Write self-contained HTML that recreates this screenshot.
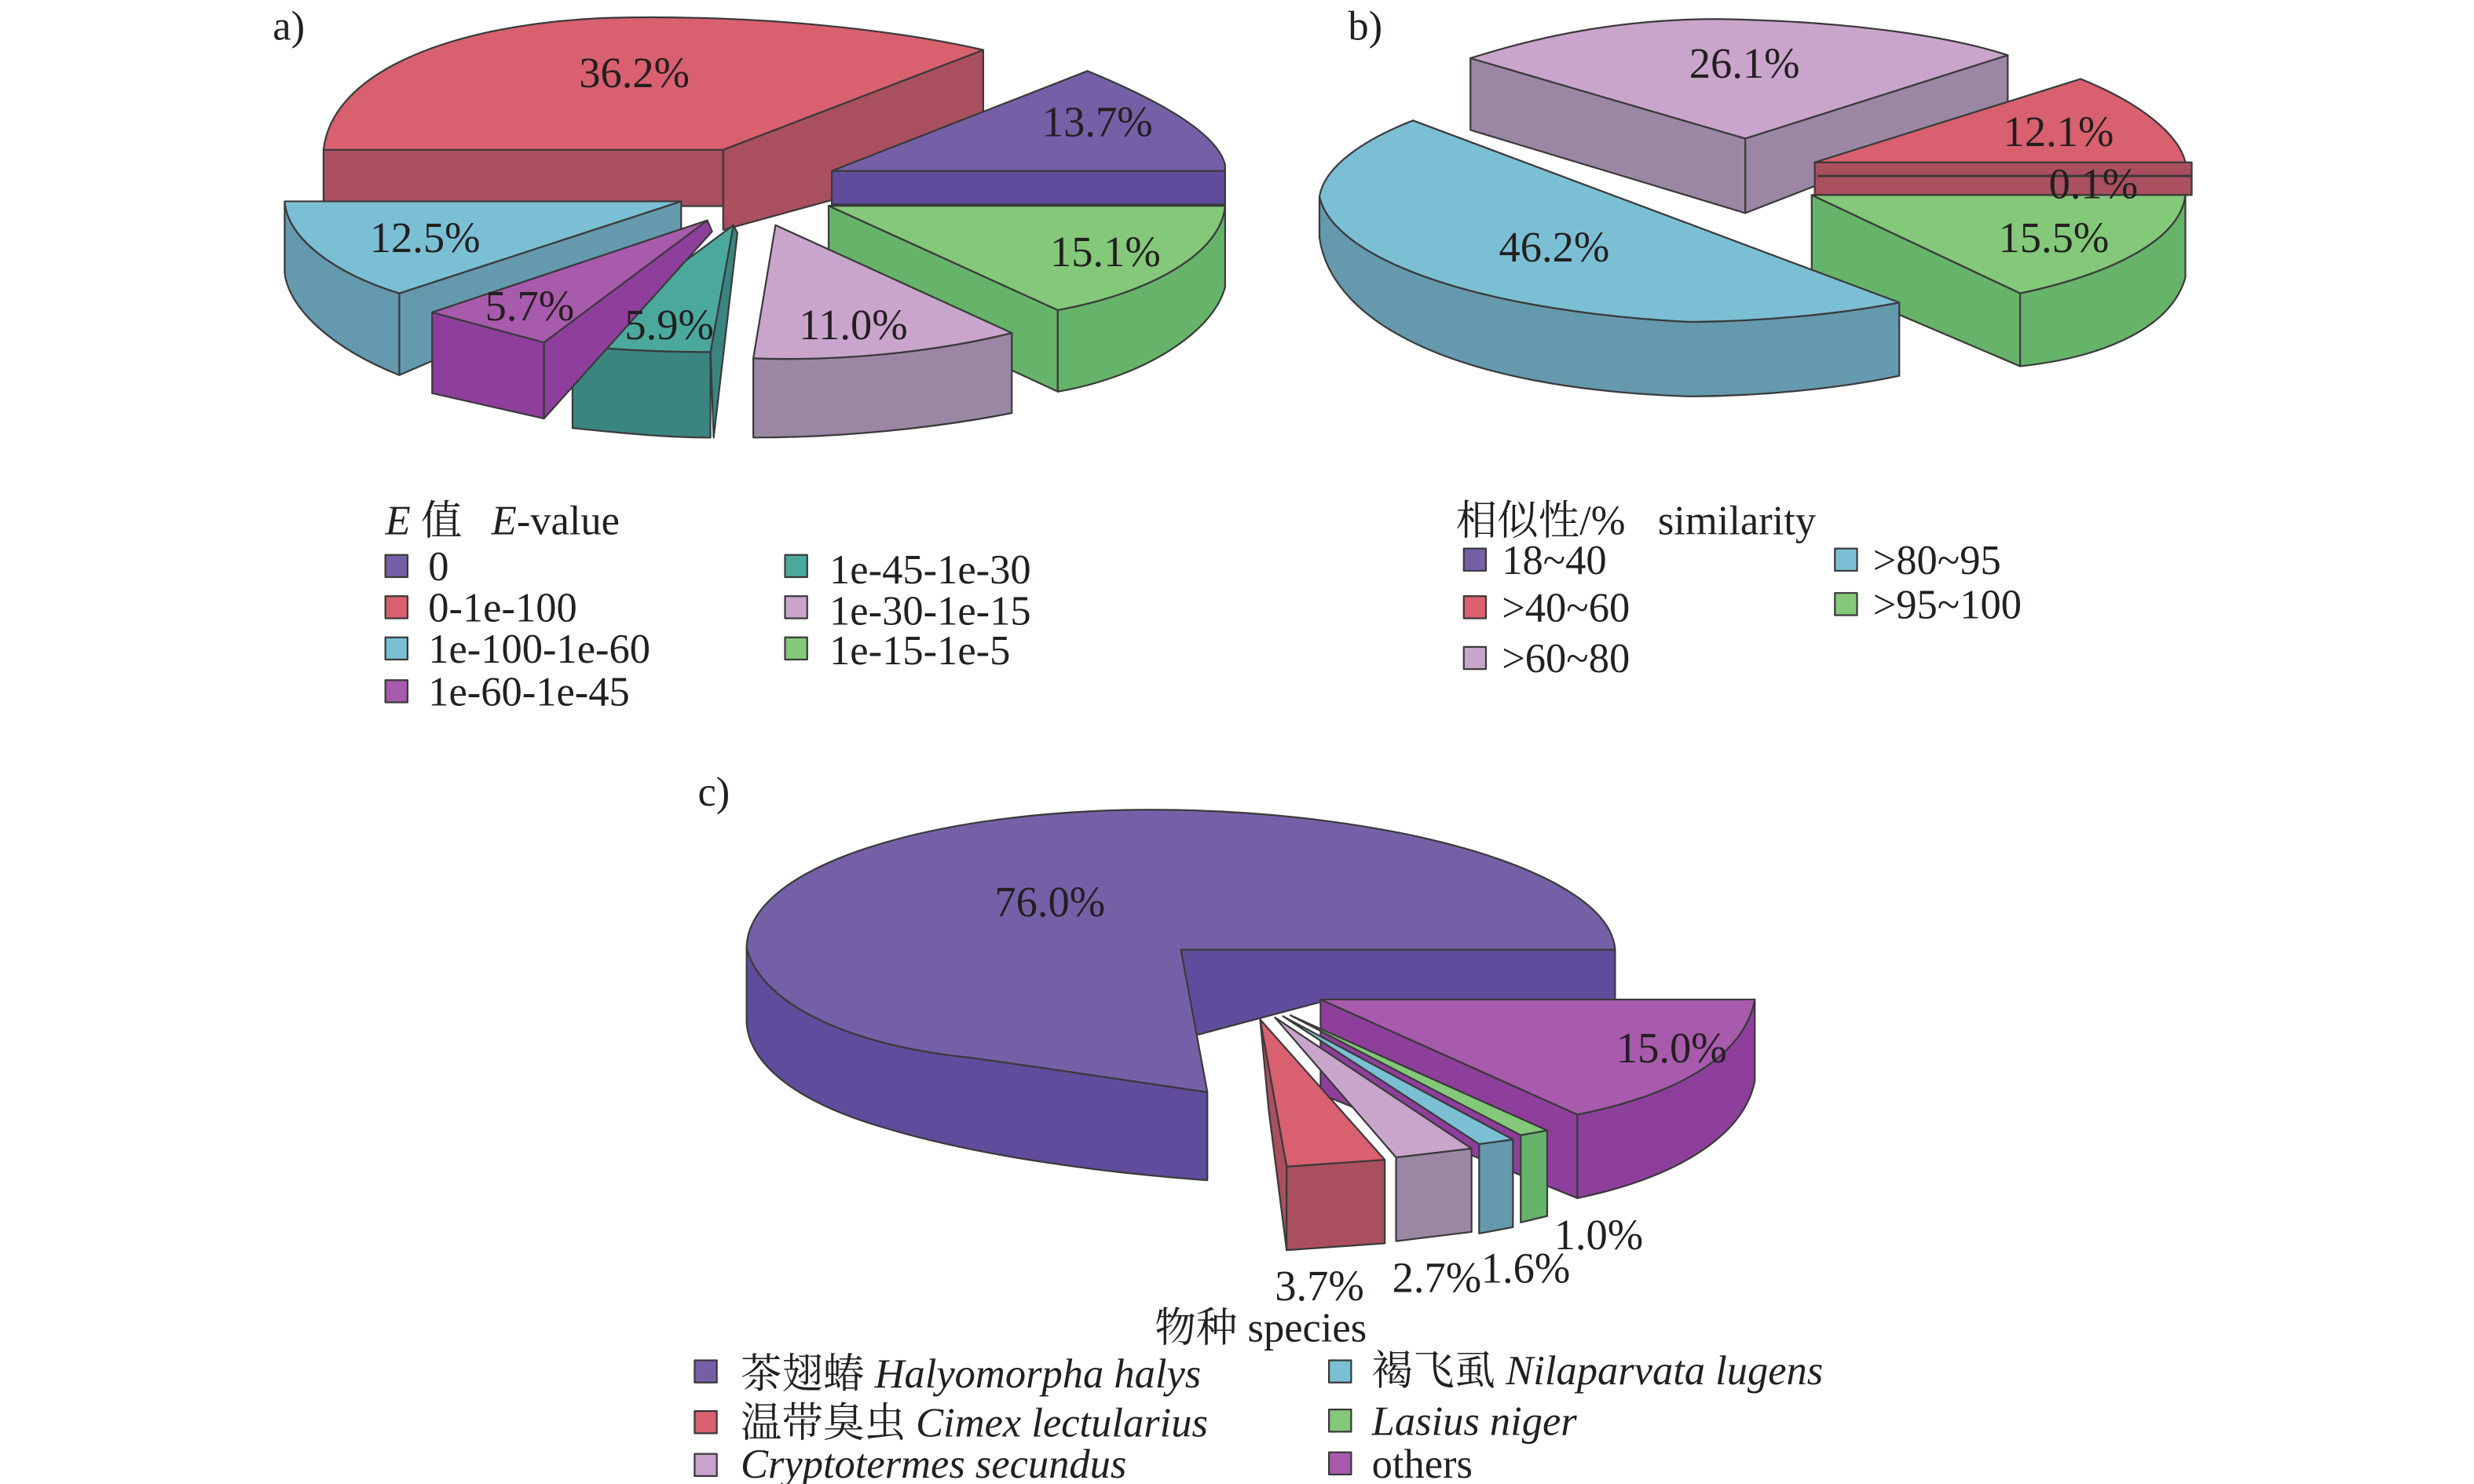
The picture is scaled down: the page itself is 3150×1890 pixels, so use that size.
<!DOCTYPE html>
<html><head><meta charset="utf-8"><style>
html,body{margin:0;padding:0;background:#fff;}
svg{display:block;}
text{font-family:"Liberation Serif","Noto Serif CJK SC","Noto Sans CJK SC",serif;fill:#231f20;}
.l{font-size:27px;text-anchor:middle;}
.g{font-size:26px;}
.s{stroke:#3a3a3a;stroke-width:1.1;stroke-linejoin:round;}
</style></head><body>
<svg width="3150" height="1890" viewBox="0 0 1560 936" preserveAspectRatio="none" xmlns="http://www.w3.org/2000/svg">
<!-- ===== Panel a ===== -->
<text x="172" y="25" class="g" font-size="24">a)</text>
<!-- red -->
<path class="s" fill="#a94f5e" d="M456,94.5 L620,31.5 L620,100 L456,145 Z"/>
<path class="s" fill="#a94f5e" d="M204,94.5 L456,94.5 L456,130 L204,130 Z"/>
<path class="s" fill="#d9606f" d="M204,94.5 C210,40 300,12 396,11 C480,10 560,18 620,31.5 L456,94.5 Z"/>
<!-- purple -->
<path class="s" fill="#604c9c" d="M524.5,107.8 L772.5,107.8 L772.5,129 L524.5,129 Z"/>
<path class="s" fill="#7560a8" d="M524.5,107.8 L685.7,44.8 C735,65 768,85 772.5,104 L772.5,107.8 Z"/>
<!-- green -->
<path class="s" fill="#66b36a" d="M522.5,129.8 L667,195.6 L667,247 L522.5,180 Z"/>
<path class="s" fill="#66b36a" d="M667,195.6 C725,180 770,155 772.5,129.8 L772.5,181 C765,210 720,238 667,247 Z"/>
<path class="s" fill="#84c87a" d="M522.5,129.8 L772.5,129.8 C770,160 725,185 667,195.6 Z"/>
<!-- lilac -->
<path class="s" fill="#9b87a4" d="M475,226 C530,228 590,222 638,210 L638,260.5 C590,270 530,276 475,276 Z"/>
<path class="s" fill="#c9a5cc" d="M489,142 L638,210 C590,222 530,228 475,226 Z"/>
<!-- blue -->
<path class="s" fill="#6499ae" d="M251.8,185 L429.5,127 L429.5,160 L251.8,236.6 Z"/>
<path class="s" fill="#6499ae" d="M179.5,127 C181,150 210,172 251.8,185 L251.8,236.6 C210,220 182,195 179.5,172 Z"/>
<path class="s" fill="#7bbfd4" d="M179.5,127 L429.5,127 L251.8,185 C210,172 181,150 179.5,127 Z"/>
<!-- teal -->
<path class="s" fill="#3a8580" d="M448,222 L462.5,142 L465,147 L450,276 Z"/>
<path class="s" fill="#3a8580" d="M361,217.6 C390,221 420,222 448,222 L448,276 C420,276 390,273 361,270 Z"/>
<path class="s" fill="#4aa99c" d="M361,217.6 L462.5,142 L448,222 C420,222 390,221 361,217.6 Z"/>
<!-- magenta -->
<path class="s" fill="#8e3f9c" d="M343,216 L446,139 L449,146 L343,264 Z"/>
<path class="s" fill="#8e3f9c" d="M272.5,197 L343,216 L343,264 L272.5,248 Z"/>
<path class="s" fill="#a85aac" d="M272.5,197 L446,139 L343,216 Z"/>
<text class="l" x="400" y="55">36.2%</text>
<text class="l" x="692" y="86">13.7%</text>
<text class="l" x="697" y="168">15.1%</text>
<text class="l" x="268" y="159">12.5%</text>
<text class="l" x="334" y="202">5.7%</text>
<text class="l" x="422" y="214">5.9%</text>
<text class="l" x="538" y="214">11.0%</text>
<!-- legend a -->
<text class="g" x="243" y="337"><tspan font-style="italic">E</tspan> 值 <tspan dx="12" font-style="italic">E</tspan>-value</text>
<rect class="s" x="243" y="350" width="14" height="14" fill="#7560a8"/><text class="g" x="270" y="366">0</text>
<rect class="s" x="243" y="376" width="14" height="14" fill="#d9606f"/><text class="g" x="270" y="392">0-1e-100</text>
<rect class="s" x="243" y="402" width="14" height="14" fill="#7bbfd4"/><text class="g" x="270" y="418">1e-100-1e-60</text>
<rect class="s" x="243" y="429" width="14" height="14" fill="#a85aac"/><text class="g" x="270" y="445">1e-60-1e-45</text>
<rect class="s" x="495" y="350" width="14" height="14" fill="#4aa99c"/><text class="g" x="523" y="368">1e-45-1e-30</text>
<rect class="s" x="495" y="376" width="14" height="14" fill="#c9a5cc"/><text class="g" x="523" y="394">1e-30-1e-15</text>
<rect class="s" x="495" y="402" width="14" height="14" fill="#84c87a"/><text class="g" x="523" y="419">1e-15-1e-5</text>

<!-- ===== Panel b ===== -->
<text x="850" y="25" class="g" font-size="24">b)</text>
<path class="s" fill="#9b87a4" d="M927.2,36.7 L1100.5,87.4 L1100.5,134.4 L927.2,82 Z"/>
<path class="s" fill="#9b87a4" d="M1100.5,87.4 L1266,34.8 L1266,70 L1100.5,134.4 Z"/>
<path class="s" fill="#c9a5cc" d="M927.2,36.7 C980,20 1030,12 1083,12 C1150,13 1220,20 1266,34.8 L1100.5,87.4 Z"/>
<path class="s" fill="#a94f5e" d="M1144.3,102.4 L1382,102.4 L1382,123 L1144.3,123 Z"/>
<line x1="1146" y1="111" x2="1382" y2="111" stroke="#3a3a3a" stroke-width="1.5"/>
<path class="s" fill="#d9606f" d="M1144.3,102.4 L1311.9,49.8 C1350,65 1374,85 1378,102.4 Z"/>
<path class="s" fill="#66b36a" d="M1142.4,123 L1273.8,185 L1273.8,231 L1142.4,175 Z"/>
<path class="s" fill="#66b36a" d="M1273.8,185 C1335,172 1375,150 1378,123 L1378,175 C1370,205 1330,225 1273.8,231 Z"/>
<path class="s" fill="#84c87a" d="M1142.4,123 L1378,123 C1375,150 1335,172 1273.8,185 Z"/>
<path class="s" fill="#6499ae" d="M832,124 C840,160 920,195 1064,203 C1110,203 1160,198 1197.6,190.8 L1197.6,237 C1160,245 1110,250 1064,250 C920,245 840,205 832,150 Z"/>
<path class="s" fill="#7bbfd4" d="M891,76 L1197.6,190.8 C1160,198 1110,203 1064,203 C920,195 840,160 832,124 C835,105 860,88 891,76 Z"/>
<text class="l" x="1100" y="49">26.1%</text>
<text class="l" x="1298" y="92">12.1%</text>
<text class="l" x="1320" y="125">0.1%</text>
<text class="l" x="1295" y="159">15.5%</text>
<text class="l" x="980" y="165">46.2%</text>
<!-- legend b -->
<text class="g" x="918" y="337">相似性/% <tspan dx="14">similarity</tspan></text>
<rect class="s" x="923" y="346" width="14" height="14" fill="#7560a8"/><text class="g" x="947" y="362">18~40</text>
<rect class="s" x="923" y="376" width="14" height="14" fill="#d9606f"/><text class="g" x="947" y="392">&gt;40~60</text>
<rect class="s" x="923" y="408" width="14" height="14" fill="#c9a5cc"/><text class="g" x="947" y="424">&gt;60~80</text>
<rect class="s" x="1157" y="346" width="14" height="14" fill="#7bbfd4"/><text class="g" x="1181" y="362">&gt;80~95</text>
<rect class="s" x="1157" y="374" width="14" height="14" fill="#84c87a"/><text class="g" x="1181" y="390">&gt;95~100</text>

<!-- ===== Panel c ===== -->
<text x="440" y="508" class="g" font-size="24">c)</text>
<path class="s" fill="#604c9c" d="M744.6,599 L1018.4,599 L1018.4,632 L832.7,632 L754,653 Z"/>
<path class="s" fill="#604c9c" d="M470.8,597.6 C480,635 540,660 611,667 C670,675 720,683 761.3,688.8 L761.3,744.4 C700,740 620,730 560,712 C500,695 472,670 470.8,644.6 Z"/>
<path class="s" fill="#7560a8" d="M470.8,597.6 C472,545 590,511 725.6,510.7 C880,511 1015,550 1018.4,599 L744.6,599 L761.3,688.8 C720,683 670,675 611,667 C540,660 480,635 470.8,597.6 Z"/>
<path class="s" fill="#8e3f9c" d="M832.7,630.4 L994.6,703 L994.6,755.7 L832.7,690 Z"/>
<path class="s" fill="#8e3f9c" d="M994.6,703 C1060,690 1100,665 1106.5,630.4 L1106.5,681.7 C1100,715 1060,742 994.6,755.7 Z"/>
<path class="s" fill="#a85aac" d="M832.7,630.4 L1106.5,630.4 C1100,665 1060,690 994.6,703 Z"/>
<path class="s" fill="#66b36a" d="M958.9,716 L975.6,713 L975.6,767 L958.9,771 Z"/>
<path class="s" fill="#84c87a" d="M813.7,640.4 L975.6,713 L958.9,716 Z"/>
<path class="s" fill="#6499ae" d="M932.7,721.6 L954,718.7 L954,774 L932.7,778 Z"/>
<path class="s" fill="#7bbfd4" d="M809,641 L954,718.7 L932.7,721.6 Z"/>
<path class="s" fill="#9b87a4" d="M880.3,730 L927.9,724.4 L927.9,777 L880.3,782.8 Z"/>
<path class="s" fill="#c9a5cc" d="M804,641.8 L927.9,724.4 L880.3,730 Z"/>
<path class="s" fill="#a94f5e" d="M794.6,643 L811.3,735.8 L811.3,788.5 L800,700 Z"/>
<path class="s" fill="#a94f5e" d="M811.3,735.8 L873.2,731.5 L873.2,784.2 L811.3,788.5 Z"/>
<path class="s" fill="#d9606f" d="M794.6,643 L873.2,731.5 L811.3,735.8 Z"/>
<text class="l" x="662" y="578">76.0%</text>
<text class="l" x="1054" y="670">15.0%</text>
<text class="l" x="832" y="820">3.7%</text>
<text class="l" x="906" y="815">2.7%</text>
<text class="l" x="962" y="809">1.6%</text>
<text class="l" x="1008" y="788">1.0%</text>
<!-- legend c -->
<text class="g" x="795" y="846" text-anchor="middle" font-size="27">物种 species</text>
<rect class="s" x="438" y="858" width="14" height="14" fill="#7560a8"/><text class="g" x="467" y="875" font-size="28">茶翅蝽 <tspan font-style="italic">Halyomorpha halys</tspan></text>
<rect class="s" x="438" y="890" width="14" height="14" fill="#d9606f"/><text class="g" x="467" y="906" font-size="28">温带臭虫 <tspan font-style="italic">Cimex lectularius</tspan></text>
<rect class="s" x="438" y="917" width="14" height="14" fill="#c9a5cc"/><text class="g" x="467" y="932" font-size="28" font-style="italic">Cryptotermes secundus</text>
<rect class="s" x="838" y="858" width="14" height="14" fill="#7bbfd4"/><text class="g" x="865" y="873" font-size="28">褐飞虱 <tspan font-style="italic">Nilaparvata lugens</tspan></text>
<rect class="s" x="838" y="889" width="14" height="14" fill="#84c87a"/><text class="g" x="865" y="905" font-size="28" font-style="italic">Lasius niger</text>
<rect class="s" x="838" y="916" width="14" height="14" fill="#a85aac"/><text class="g" x="865" y="932" font-size="28">others</text>
</svg>
</body></html>
